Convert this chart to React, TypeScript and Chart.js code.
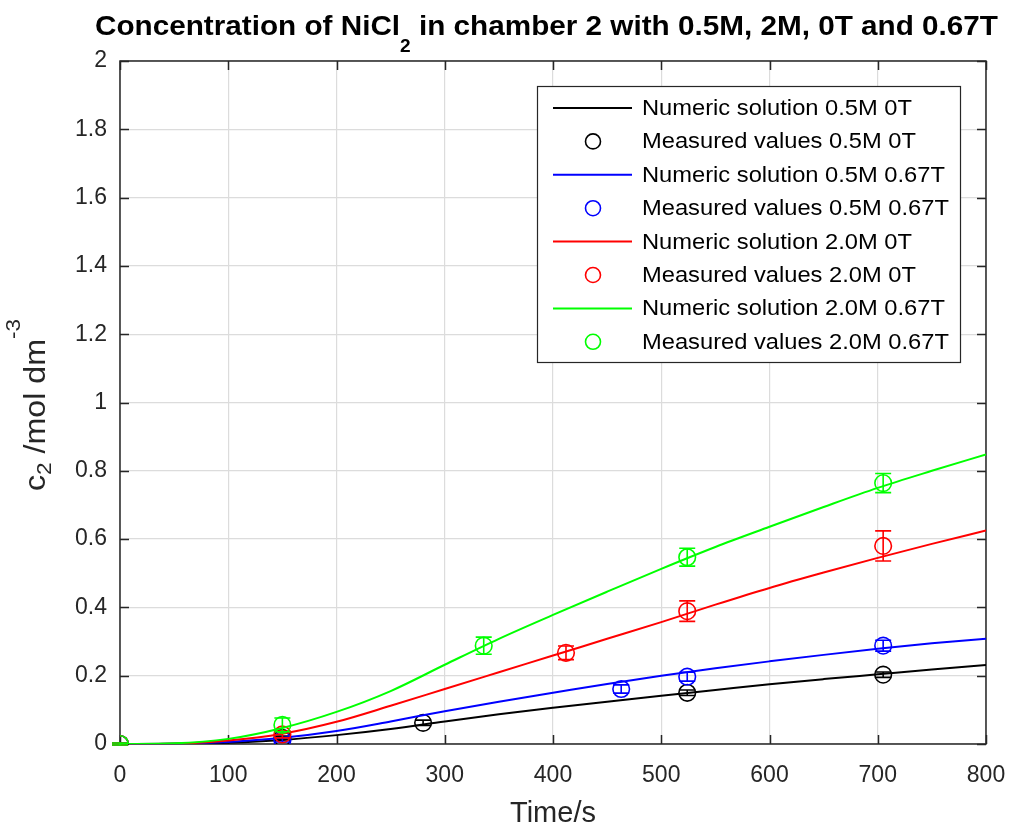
import React, { useEffect, useRef } from "react";
import { Chart, registerables } from "chart.js";

Chart.register(...registerables);

// ---- data ----
const timeNumeric = [0, 50, 100, 150, 200, 250, 300, 350, 400, 450, 500, 550, 600, 650, 700, 750, 800];
const numeric05M0T = [0, 0.0005, 0.004, 0.012, 0.026, 0.044, 0.066, 0.087, 0.106, 0.124, 0.141, 0.158, 0.175, 0.19, 0.204, 0.218, 0.231];
const numeric05M067T = [0, 0.001, 0.006, 0.018, 0.038, 0.066, 0.096, 0.124, 0.15, 0.176, 0.2, 0.222, 0.242, 0.261, 0.279, 0.295, 0.308];
const numeric2M0T = [0, 0.001, 0.01, 0.03, 0.065, 0.112, 0.161, 0.21, 0.259, 0.308, 0.357, 0.408, 0.457, 0.502, 0.545, 0.586, 0.625];
const numeric2M067T = [0, 0.002, 0.015, 0.047, 0.094, 0.155, 0.232, 0.308, 0.378, 0.446, 0.513, 0.577, 0.636, 0.694, 0.75, 0.8, 0.848];

const measTime05M0T = [0, 150, 280, 524, 705];
const meas05M0T = [0, 0.018, 0.062, 0.15, 0.203];
const err05M0T = [0.003, 0.005, 0.008, 0.008, 0.008];

const measTime05M067T = [0, 150, 463, 524, 705];
const meas05M067T = [0, 0.012, 0.161, 0.197, 0.288];
const err05M067T = [0.003, 0.006, 0.012, 0.013, 0.016];

const measTime2M0T = [0, 150, 412, 524, 705];
const meas2M0T = [0, 0.028, 0.267, 0.389, 0.58];
const err2M0T = [0.003, 0.01, 0.02, 0.03, 0.044];

const measTime2M067T = [0, 150, 336, 524, 705];
const meas2M067T = [0, 0.056, 0.288, 0.547, 0.764];
const err2M067T = [0.003, 0.02, 0.025, 0.026, 0.028];

const seriesLabels = [
  "Numeric solution 0.5M 0T",
  "Measured values 0.5M 0T",
  "Numeric solution 0.5M 0.67T",
  "Measured values 0.5M 0.67T",
  "Numeric solution 2.0M 0T",
  "Measured values 2.0M 0T",
  "Numeric solution 2.0M 0.67T",
  "Measured values 2.0M 0.67T",
];
const seriesColors = ["#000000", "#000000", "#0000ff", "#0000ff", "#ff0000", "#ff0000", "#00ff00", "#00ff00"];

const xTicksMax = 800;
const yTicksMax = 2;

const FONT = "'Liberation Sans', Arial, Helvetica, sans-serif";
const TEXT = "#262626";

const pts = (xs: number[], ys: number[]) => xs.map((x, i) => ({ x, y: ys[i] }));

export default function App() {
  const ref = useRef<HTMLCanvasElement>(null);

  useEffect(() => {
    const canvas = ref.current!;
    const numerics = [numeric05M0T, numeric05M067T, numeric2M0T, numeric2M067T];
    const measured = [
      { x: measTime05M0T, y: meas05M0T, e: err05M0T },
      { x: measTime05M067T, y: meas05M067T, e: err05M067T },
      { x: measTime2M0T, y: meas2M0T, e: err2M0T },
      { x: measTime2M067T, y: meas2M067T, e: err2M067T },
    ];
    const datasets: any[] = [];
    for (let k = 0; k < 4; k++) {
      const c = seriesColors[2 * k];
      datasets.push({
        label: seriesLabels[2 * k],
        data: pts(timeNumeric, numerics[k]),
        borderColor: c,
        backgroundColor: c,
        borderWidth: 2,
        pointRadius: 0,
        showLine: true,
        cubicInterpolationMode: "monotone",
        order: 20 - 2 * k * 2,
      });
      datasets.push({
        label: seriesLabels[2 * k + 1],
        data: pts(measured[k].x, measured[k].y),
        borderColor: c,
        backgroundColor: "rgba(0,0,0,0)",
        pointStyle: "circle",
        pointRadius: 8.3,
        pointBorderWidth: 1.6,
        pointBorderColor: c,
        pointBackgroundColor: "rgba(0,0,0,0)",
        showLine: false,
        order: 20 - (2 * k + 1) * 2,
      });
    }

    const errPlugin = {
      id: "errbars",
      afterDatasetDraw(chart: any, args: any) {
        const i = args.index;
        if (i % 2 !== 1) return;
        const m = measured[(i - 1) / 2];
        const ctx = chart.ctx;
        const xs = chart.scales.x;
        const ys = chart.scales.y;
        ctx.save();
        ctx.strokeStyle = seriesColors[i];
        ctx.lineWidth = 1.6;
        m.x.forEach((xv: number, j: number) => {
          const px = xs.getPixelForValue(xv);
          const top = ys.getPixelForValue(m.y[j] + m.e[j]);
          const bot = ys.getPixelForValue(m.y[j] - m.e[j]);
          ctx.beginPath();
          ctx.moveTo(px, top);
          ctx.lineTo(px, bot);
          ctx.moveTo(px - 8, top);
          ctx.lineTo(px + 8, top);
          ctx.moveTo(px - 8, bot);
          ctx.lineTo(px + 8, bot);
          ctx.stroke();
        });
        ctx.restore();
      },
    };

    const decoPlugin = {
      id: "deco",
      beforeDraw(chart: any) {
        const ctx = chart.ctx;
        ctx.save();
        ctx.fillStyle = "#ffffff";
        ctx.fillRect(0, 0, chart.width, chart.height);
        ctx.restore();
      },
      beforeDatasetsDraw(chart: any) {
        const ctx = chart.ctx;
        const a = chart.chartArea;
        const xs = chart.scales.x;
        const ys = chart.scales.y;
        ctx.save();
        ctx.strokeStyle = TEXT;
        ctx.lineWidth = 1.5;
        ctx.beginPath();
        ctx.rect(a.left, a.top, a.right - a.left, a.bottom - a.top);
        ctx.stroke();
        ctx.beginPath();
        const tl = 9;
        xs.ticks.forEach((t: any) => {
          const px = Math.round(xs.getPixelForValue(t.value)) + 0.5;
          ctx.moveTo(px, a.bottom);
          ctx.lineTo(px, a.bottom - tl);
          ctx.moveTo(px, a.top);
          ctx.lineTo(px, a.top + tl);
        });
        ys.ticks.forEach((t: any) => {
          const py = Math.round(ys.getPixelForValue(t.value)) + 0.5;
          ctx.moveTo(a.left, py);
          ctx.lineTo(a.left + tl, py);
          ctx.moveTo(a.right, py);
          ctx.lineTo(a.right - tl, py);
        });
        ctx.stroke();
        ctx.restore();
      },
      afterDraw(chart: any) {
        const ctx = chart.ctx;
        const a = chart.chartArea;
        const cx = (a.left + a.right) / 2;
        ctx.save();

        // Title
        const t1 = "Concentration of NiCl";
        const t2 = "2";
        const t3 = " in chamber 2 with 0.5M, 2M, 0T and 0.67T";
        const tf = `bold 28px ${FONT}`;
        const tfs = `bold 18px ${FONT}`;
        ctx.font = tf;
        const w1 = ctx.measureText(t1).width;
        const w3 = ctx.measureText(t3).width;
        ctx.font = tfs;
        const w2 = ctx.measureText(t2).width;
        const total = w1 + w2 + w3;
        const targetW = 903;
        const sx = targetW / total;
        ctx.save();
        ctx.translate(95, 35);
        ctx.scale(sx, 1);
        ctx.fillStyle = "#000000";
        ctx.textBaseline = "alphabetic";
        ctx.textAlign = "left";
        ctx.font = tf;
        ctx.fillText(t1, 0, 0);
        ctx.font = tfs;
        ctx.fillText(t2, w1, 17);
        ctx.font = tf;
        ctx.fillText(t3, w1 + w2, 0);
        ctx.restore();

        // X label
        ctx.fillStyle = TEXT;
        ctx.font = `29px ${FONT}`;
        ctx.textAlign = "center";
        ctx.textBaseline = "alphabetic";
        ctx.fillText("Time/s", cx, 822);

        // Y label
        const yf = `30px ${FONT}`;
        const yfs = `21px ${FONT}`;
        const p1 = "c";
        const p2 = "2";
        const p3 = " /mol dm";
        const p4 = "-3";
        ctx.font = yf;
        const q1 = ctx.measureText(p1).width;
        const q3 = ctx.measureText(p3).width;
        ctx.font = yfs;
        const q2 = ctx.measureText(p2).width;
        const q4 = ctx.measureText(p4).width;
        const tw = q1 + q2 + q3 + q4;
        const targetLen = 172;
        ctx.save();
        ctx.translate(45, 405);
        ctx.rotate(-Math.PI / 2);
        ctx.scale(targetLen / tw, 1);
        ctx.textAlign = "left";
        let xx = -tw / 2;
        ctx.font = yf;
        ctx.fillText(p1, xx, 0);
        xx += q1;
        ctx.font = yfs;
        ctx.fillText(p2, xx, 6);
        xx += q2;
        ctx.font = yf;
        ctx.fillText(p3, xx, 0);
        xx += q3;
        ctx.font = yfs;
        ctx.fillText(p4, xx, -25);
        ctx.restore();

        // Legend
        const lx = 537, ly = 86, lw = 423, lh = 276;
        ctx.fillStyle = "#ffffff";
        ctx.fillRect(lx, ly, lw, lh);
        ctx.strokeStyle = TEXT;
        ctx.lineWidth = 1.2;
        ctx.strokeRect(lx + 0.5, ly + 0.5, lw, lh);
        ctx.font = `22px ${FONT}`;
        const lsx = 270 / ctx.measureText(seriesLabels[0]).width;
        ctx.textAlign = "left";
        ctx.textBaseline = "middle";
        for (let i = 0; i < seriesLabels.length; i++) {
          const yy = 108 + i * 33.4;
          const col = seriesColors[i];
          ctx.strokeStyle = col;
          if (i % 2 === 0) {
            ctx.lineWidth = 2;
            ctx.beginPath();
            ctx.moveTo(553, yy);
            ctx.lineTo(632, yy);
            ctx.stroke();
          } else {
            ctx.lineWidth = 1.6;
            ctx.beginPath();
            ctx.arc(593, yy, 7.5, 0, Math.PI * 2);
            ctx.stroke();
          }
          ctx.fillStyle = "#000000";
          ctx.save();
          ctx.translate(642, yy + 1);
          ctx.scale(lsx, 1);
          ctx.fillText(seriesLabels[i], 0, 0);
          ctx.restore();
        }
        ctx.restore();
      },
    };

    const chart = new Chart(canvas, {
      type: "scatter",
      data: { datasets },
      options: {
        responsive: false,
        animation: false,
        events: [],
        layout: { padding: { left: 0, right: 27, top: 61, bottom: 0 } },
        plugins: {
          legend: { display: false },
          tooltip: { enabled: false },
          title: { display: false },
        },
        scales: {
          x: {
            type: "linear",
            min: 0,
            max: xTicksMax,
            ticks: { stepSize: 100, color: TEXT, font: { family: FONT, size: 23 }, padding: 18, maxRotation: 0 },
            grid: { color: "#dcdcdc", drawTicks: false, lineWidth: 1.2 },
            border: { display: false },
            afterFit: (s: any) => {
              s.height = 85;
              s.paddingLeft = 0;
              s.paddingRight = 0;
            },
          },
          y: {
            type: "linear",
            min: 0,
            max: yTicksMax,
            ticks: {
              stepSize: 0.2,
              color: TEXT,
              font: { family: FONT, size: 23 },
              padding: 13,
              callback: (v: any) => String(Number(Number(v).toFixed(1))),
            },
            grid: { color: "#dcdcdc", drawTicks: false, lineWidth: 1.2 },
            border: { display: false },
            afterFit: (s: any) => {
              s.width = 120;
              s.paddingTop = 0;
              s.paddingBottom = 0;
            },
          },
        },
      } as any,
      plugins: [errPlugin, decoPlugin],
    });
    return () => chart.destroy();
  }, []);

  return (
    <div style={{ position: "absolute", left: 0, top: 0, width: 1013, height: 829, background: "#fff" }}>
      <canvas ref={ref} width={1013} height={829} style={{ display: "block", width: 1013, height: 829 }} />
    </div>
  );
}
